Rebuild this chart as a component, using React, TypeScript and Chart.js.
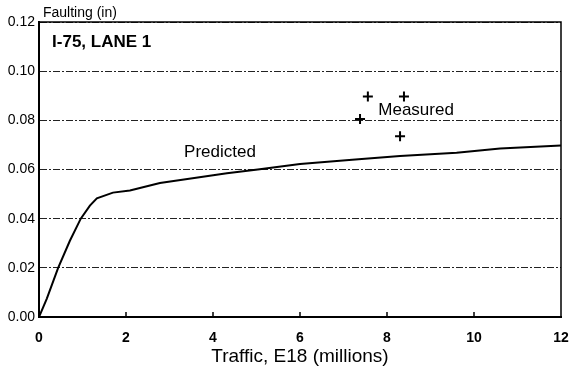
import React, { useEffect, useRef } from "react";
import { Chart, registerables } from "chart.js";

Chart.register(...registerables);

// Predicted curve (traffic in millions of E18, faulting in inches)
const predictedX = [0, 0.18, 0.44, 0.71, 0.96, 1.17, 1.33, 1.7, 2.09, 2.55, 2.78, 4.32, 5.03, 6.0, 7.2, 8.3, 9.6, 10.6, 12];
const predictedY = [0, 0.0075, 0.02, 0.031, 0.04, 0.0453, 0.0483, 0.0506, 0.0515, 0.0535, 0.0545, 0.0585, 0.06, 0.0622, 0.064, 0.0655, 0.0668, 0.0685, 0.0698];

// Measured points
const measuredX = [7.56, 8.39, 7.38, 8.3];
const measuredY = [0.0897, 0.0897, 0.0805, 0.0735];

const xTickValues = [2, 4, 6, 8, 10];

const yTitle = "Faulting (in)";
const xTitle = "Traffic, E18 (millions)";
const panelLabel = "I-75, LANE 1";
const predictedLabel = "Predicted";
const measuredLabel = "Measured";

const FONT = "'Liberation Sans', Arial, sans-serif";

export default function App() {
  const ref = useRef<HTMLCanvasElement | null>(null);

  useEffect(() => {
    if (!ref.current) return;
    const overlay = {
      id: "overlay",
      afterDraw(chart: any) {
        const { ctx, chartArea, scales } = chart;
        const xs = scales.x;
        const ys = scales.y;
        ctx.save();
        // frame top and right
        ctx.strokeStyle = "#000";
        ctx.lineWidth = 1.5;
        ctx.beginPath();
        ctx.moveTo(chartArea.left, chartArea.top);
        ctx.lineTo(chartArea.right, chartArea.top);
        ctx.lineTo(chartArea.right, chartArea.bottom);
        ctx.stroke();
        // inner tick marks on x axis
        ctx.lineWidth = 1.5;
        xTickValues.forEach((v) => {
          const px = xs.getPixelForValue(v);
          ctx.beginPath();
          ctx.moveTo(px, chartArea.bottom);
          ctx.lineTo(px, chartArea.bottom - 5);
          ctx.stroke();
        });
        ctx.fillStyle = "#000";
        ctx.textBaseline = "middle";
        ctx.textAlign = "left";
        ctx.font = `14px ${FONT}`;
        ctx.fillText(yTitle, chartArea.left + 4, chartArea.top - 9);
        ctx.font = `bold 17px ${FONT}`;
        ctx.fillText(panelLabel, xs.getPixelForValue(0.3), ys.getPixelForValue(0.1118));
        ctx.font = `17px ${FONT}`;
        ctx.textAlign = "center";
        ctx.fillText(predictedLabel, xs.getPixelForValue(4.16), ys.getPixelForValue(0.067));
        ctx.textAlign = "left";
        ctx.fillText(measuredLabel, xs.getPixelForValue(7.8), ys.getPixelForValue(0.0841));
        ctx.restore();
      },
    };

    const chart = new Chart(ref.current, {
      type: "scatter",
      data: {
        datasets: [
          {
            type: "line",
            label: predictedLabel,
            data: predictedX.map((x, i) => ({ x, y: predictedY[i] })),
            borderColor: "#000",
            borderWidth: 2,
            pointRadius: 0,
            fill: false,
            tension: 0,
          } as any,
          {
            label: measuredLabel,
            data: measuredX.map((x, i) => ({ x, y: measuredY[i] })),
            pointStyle: "cross",
            pointRadius: 5,
            pointBorderWidth: 2,
            borderColor: "#000",
            backgroundColor: "#000",
          },
        ],
      },
      options: {
        responsive: false,
        animation: false,
        devicePixelRatio: 1,
        layout: { padding: { top: 22, right: 8, left: 0, bottom: 0 } },
        plugins: {
          legend: { display: false },
          tooltip: { enabled: false },
          title: { display: false },
        },
        scales: {
          x: {
            type: "linear",
            min: 0,
            max: 12,
            afterFit: (s: any) => {
              s.height = 59;
              s.paddingRight = 8;
              s.paddingLeft = 0;
            },
            ticks: {
              stepSize: 2,
              padding: 5,
              color: "#000",
              font: { family: FONT, size: 14, weight: "bold" },
            },
            grid: { display: false },
            border: { display: true, color: "#000", width: 2 },
            title: {
              display: true,
              text: xTitle,
              color: "#000",
              font: { family: FONT, size: 19 },
              padding: { top: 0, bottom: 8 },
            },
          },
          y: {
            type: "linear",
            min: 0,
            max: 0.12,
            afterFit: (s: any) => {
              s.width = 39;
            },
            ticks: {
              stepSize: 0.02,
              padding: 4,
              color: "#000",
              font: { family: FONT, size: 14 },
              callback: (v: any) => Number(v).toFixed(2),
            },
            grid: {
              display: true,
              color: "#222",
              lineWidth: 1,
              drawTicks: false,
            },
            border: { display: true, color: "#000", width: 2, dash: [7, 2, 2, 2] },
          },
        },
      } as any,
      plugins: [overlay],
    });
    return () => chart.destroy();
  }, []);

  return (
    <div style={{ position: "absolute", left: 0, top: 0, width: 569, height: 376, background: "#fff" }}>
      <canvas ref={ref} width={569} height={376} />
    </div>
  );
}
